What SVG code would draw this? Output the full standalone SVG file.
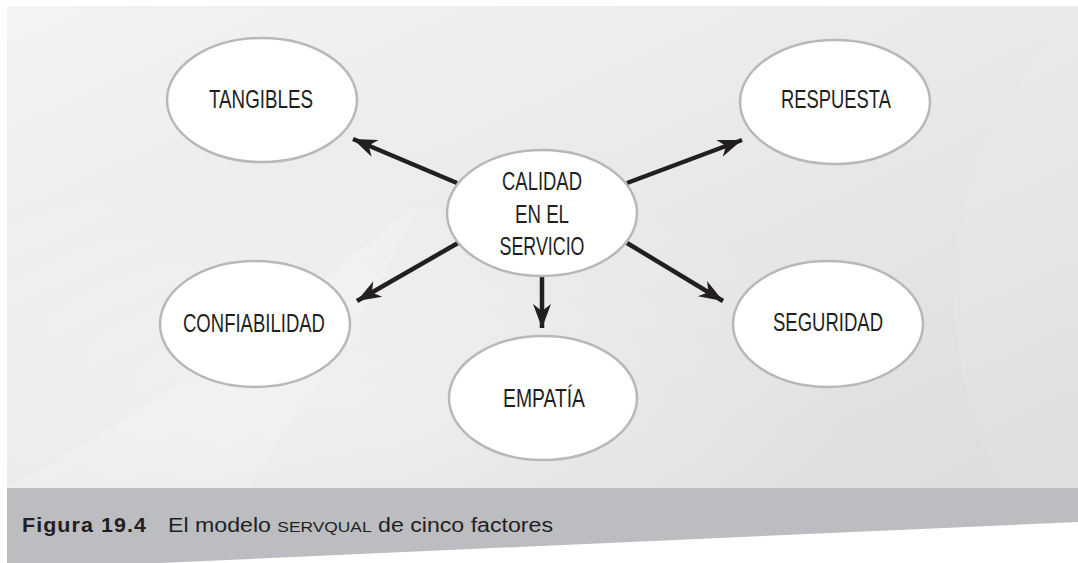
<svg xmlns="http://www.w3.org/2000/svg" width="1078" height="563" viewBox="0 0 1078 563">
  <defs>
    <linearGradient id="bg" x1="0" y1="0" x2="1" y2="1">
      <stop offset="0" stop-color="#f3f3f3"/>
      <stop offset="0.5" stop-color="#e9e9e9"/>
      <stop offset="1" stop-color="#dcdcdc"/>
    </linearGradient>
    <radialGradient id="glow" cx="0.3" cy="0.8" r="0.5">
      <stop offset="0" stop-color="#ffffff" stop-opacity="0.35"/>
      <stop offset="1" stop-color="#ffffff" stop-opacity="0"/>
    </radialGradient>
    <marker id="ah" markerUnits="userSpaceOnUse" markerWidth="30" markerHeight="24" viewBox="-26 -12 30 24" refX="0" refY="0" orient="auto">
      <path d="M0,0 L-24,-9 L-17,0 L-24,9 Z" fill="#231f20"/>
    </marker>
    <style>
      .node ellipse { fill: #ffffff; stroke: #b8b8bb; stroke-width: 2.5; }
      .node text { font-family: "Liberation Sans", Arial, sans-serif; font-size: 26px; fill: #231f20; text-anchor: middle; }
      .conn line { stroke: #231f20; stroke-width: 4.5; marker-end: url(#ah); }
      .cap { font-family: "Liberation Sans", Arial, sans-serif; fill: #231f20; }
    </style>
  </defs>

  <rect x="0" y="0" width="1078" height="563" fill="#ffffff"/>
  <rect x="7" y="6" width="1071" height="482" fill="url(#bg)"/>
  <rect x="7" y="6" width="1071" height="482" fill="url(#glow)"/>
  <path d="M7,488 C200,380 300,300 420,200 C380,300 300,400 250,488 Z" fill="#ffffff" opacity="0.18"/>
  <path d="M1078,6 C980,120 900,260 1000,488 L1078,488 Z" fill="#ffffff" opacity="0.08"/>
  <polygon points="7,488 1078,488 1078,522 160,563 7,563" fill="#bcbdc0"/>

  <g class="conn">
    <line x1="457" y1="183" x2="353" y2="139"/>
    <line x1="627" y1="183" x2="742" y2="140"/>
    <line x1="458" y1="243" x2="357" y2="301"/>
    <line x1="627" y1="243" x2="723" y2="301"/>
    <line x1="542" y1="275" x2="542" y2="328"/>
  </g>

  <g id="tangibles" class="node">
    <ellipse cx="262" cy="100" rx="95" ry="62"/>
    <text x="261" y="108" textLength="104" lengthAdjust="spacingAndGlyphs">TANGIBLES</text>
  </g>
  <g id="respuesta" class="node">
    <ellipse cx="835" cy="102" rx="95" ry="62"/>
    <text x="836" y="108" textLength="110" lengthAdjust="spacingAndGlyphs">RESPUESTA</text>
  </g>
  <g id="calidad" class="node">
    <ellipse cx="542" cy="213" rx="95" ry="63"/>
    <text x="542" y="190" textLength="80" lengthAdjust="spacingAndGlyphs">CALIDAD</text>
    <text x="542" y="223" textLength="54" lengthAdjust="spacingAndGlyphs">EN EL</text>
    <text x="542" y="255" textLength="85" lengthAdjust="spacingAndGlyphs">SERVICIO</text>
  </g>
  <g id="confiabilidad" class="node">
    <ellipse cx="255" cy="324" rx="95" ry="63"/>
    <text x="254" y="332" textLength="142" lengthAdjust="spacingAndGlyphs">CONFIABILIDAD</text>
  </g>
  <g id="seguridad" class="node">
    <ellipse cx="828" cy="324" rx="95" ry="63"/>
    <text x="828" y="331" textLength="110" lengthAdjust="spacingAndGlyphs">SEGURIDAD</text>
  </g>
  <g id="empatia" class="node">
    <ellipse cx="543" cy="398" rx="94" ry="62"/>
    <text x="544" y="407" textLength="82" lengthAdjust="spacingAndGlyphs">EMPATÍA</text>
  </g>

  <text class="cap" x="22" y="532" font-size="20" font-weight="bold" letter-spacing="1" textLength="125" lengthAdjust="spacingAndGlyphs">Figura 19.4</text>
  <text class="cap" x="168" y="532" font-size="20" textLength="385" lengthAdjust="spacingAndGlyphs">El modelo <tspan font-size="15">SERVQUAL</tspan> de cinco factores</text>
</svg>
